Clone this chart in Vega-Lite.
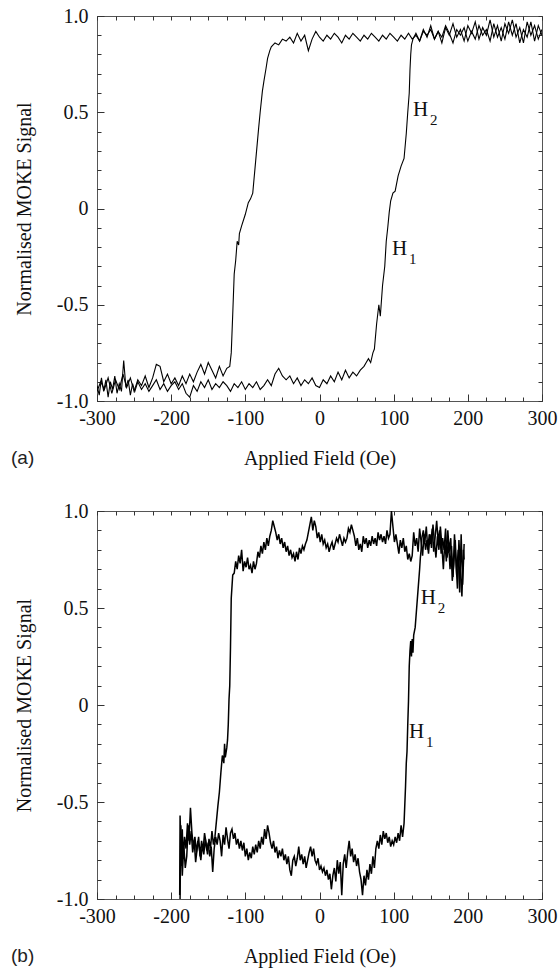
{
 "$schema": "https://vega.github.io/schema/vega-lite/v6.json",
 "padding": {"left": 10, "top": 5, "right": 0, "bottom": 5},
 "spacing": 31,
 "background": "white",
 "config": {
  "font": "Liberation Serif",
  "view": {"stroke": "#555", "strokeWidth": 1},
  "axis": {"grid": false, "domain": false, "ticks": true, "tickColor": "#333", "tickWidth": 1, "labelFont": "Liberation Serif", "labelFontSize": 20, "labelColor": "#111", "titleFont": "Liberation Serif", "titleFontSize": 20, "titleFontWeight": "normal", "titleColor": "#111", "labelFlush": false, "labelOverlap": false},
  "title": {"font": "Liberation Sans", "fontSize": 19, "fontWeight": "normal", "color": "#222"}
 },
 "datasets": {
  "a": [
   {"b":"d","x":300,"y":0.90},{"b":"d","x":295,"y":0.95},{"b":"d","x":290,"y":0.87},{"b":"d","x":285,"y":0.97},{"b":"d","x":280,"y":0.89},{"b":"d","x":275,"y":0.93},{"b":"d","x":270,"y":0.86},{"b":"d","x":265,"y":0.96},{"b":"d","x":260,"y":0.90},{"b":"d","x":255,"y":0.97},{"b":"d","x":250,"y":0.88},{"b":"d","x":245,"y":0.94},{"b":"d","x":240,"y":0.89},{"b":"d","x":235,"y":0.96},{"b":"d","x":230,"y":0.87},{"b":"d","x":225,"y":0.93},{"b":"d","x":220,"y":0.90},{"b":"d","x":215,"y":0.95},{"b":"d","x":210,"y":0.88},{"b":"d","x":205,"y":0.92},{"b":"d","x":200,"y":0.87},{"b":"d","x":195,"y":0.94},{"b":"d","x":190,"y":0.90},{"b":"d","x":185,"y":0.93},{"b":"d","x":180,"y":0.86},{"b":"d","x":175,"y":0.91},{"b":"d","x":170,"y":0.95},{"b":"d","x":165,"y":0.89},{"b":"d","x":160,"y":0.92},{"b":"d","x":155,"y":0.88},{"b":"d","x":150,"y":0.93},{"b":"d","x":145,"y":0.90},{"b":"d","x":140,"y":0.92},{"b":"d","x":135,"y":0.87},{"b":"d","x":130,"y":0.90},{"b":"d","x":125,"y":0.88},{"b":"d","x":120,"y":0.91},{"b":"d","x":115,"y":0.88},{"b":"d","x":110,"y":0.90},{"b":"d","x":105,"y":0.87},{"b":"d","x":100,"y":0.89},{"b":"d","x":95,"y":0.91},{"b":"d","x":90,"y":0.88},{"b":"d","x":85,"y":0.90},{"b":"d","x":80,"y":0.87},{"b":"d","x":75,"y":0.89},{"b":"d","x":70,"y":0.91},{"b":"d","x":65,"y":0.88},{"b":"d","x":60,"y":0.90},{"b":"d","x":55,"y":0.87},{"b":"d","x":50,"y":0.89},{"b":"d","x":45,"y":0.91},{"b":"d","x":40,"y":0.88},{"b":"d","x":35,"y":0.90},{"b":"d","x":30,"y":0.86},{"b":"d","x":25,"y":0.89},{"b":"d","x":20,"y":0.91},{"b":"d","x":15,"y":0.88},{"b":"d","x":10,"y":0.90},{"b":"d","x":5,"y":0.87},{"b":"d","x":0,"y":0.89},{"b":"d","x":-5,"y":0.92},{"b":"d","x":-10,"y":0.88},{"b":"d","x":-15,"y":0.82},{"b":"d","x":-20,"y":0.90},{"b":"d","x":-25,"y":0.87},{"b":"d","x":-30,"y":0.91},{"b":"d","x":-35,"y":0.86},{"b":"d","x":-40,"y":0.89},{"b":"d","x":-45,"y":0.87},{"b":"d","x":-50,"y":0.88},{"b":"d","x":-55,"y":0.85},{"b":"d","x":-60,"y":0.86},{"b":"d","x":-65,"y":0.84},{"b":"d","x":-67,"y":0.82},{"b":"d","x":-70,"y":0.78},{"b":"d","x":-72,"y":0.73},{"b":"d","x":-75,"y":0.66},{"b":"d","x":-77,"y":0.61},{"b":"d","x":-80,"y":0.50},{"b":"d","x":-82,"y":0.42},{"b":"d","x":-86,"y":0.25},{"b":"d","x":-90,"y":0.08},{"b":"d","x":-93,"y":0.05},{"b":"d","x":-96,"y":0.03},{"b":"d","x":-100,"y":-0.03},{"b":"d","x":-105,"y":-0.09},{"b":"d","x":-108,"y":-0.13},{"b":"d","x":-109,"y":-0.19},{"b":"d","x":-111,"y":-0.17},{"b":"d","x":-113,"y":-0.27},{"b":"d","x":-115,"y":-0.34},{"b":"d","x":-117,"y":-0.55},{"b":"d","x":-119,"y":-0.75},{"b":"d","x":-121,"y":-0.82},{"b":"d","x":-125,"y":-0.83},{"b":"d","x":-130,"y":-0.87},{"b":"d","x":-135,"y":-0.82},{"b":"d","x":-140,"y":-0.88},{"b":"d","x":-145,"y":-0.84},{"b":"d","x":-150,"y":-0.80},{"b":"d","x":-155,"y":-0.86},{"b":"d","x":-160,"y":-0.81},{"b":"d","x":-165,"y":-0.85},{"b":"d","x":-170,"y":-0.90},{"b":"d","x":-175,"y":-0.86},{"b":"d","x":-180,"y":-0.91},{"b":"d","x":-185,"y":-0.87},{"b":"d","x":-190,"y":-0.92},{"b":"d","x":-195,"y":-0.88},{"b":"d","x":-200,"y":-0.91},{"b":"d","x":-205,"y":-0.86},{"b":"d","x":-210,"y":-0.90},{"b":"d","x":-215,"y":-0.82},{"b":"d","x":-220,"y":-0.81},{"b":"d","x":-225,"y":-0.88},{"b":"d","x":-230,"y":-0.93},{"b":"d","x":-235,"y":-0.87},{"b":"d","x":-240,"y":-0.92},{"b":"d","x":-245,"y":-0.89},{"b":"d","x":-250,"y":-0.95},{"b":"d","x":-255,"y":-0.88},{"b":"d","x":-260,"y":-0.93},{"b":"d","x":-265,"y":-0.86},{"b":"d","x":-270,"y":-0.94},{"b":"d","x":-275,"y":-0.89},{"b":"d","x":-280,"y":-0.96},{"b":"d","x":-285,"y":-0.88},{"b":"d","x":-290,"y":-0.94},{"b":"d","x":-295,"y":-0.90},{"b":"d","x":-300,"y":-0.95},
   {"b":"u","x":-300,"y":-0.92},{"b":"u","x":-297,"y":-0.97},{"b":"u","x":-294,"y":-0.88},{"b":"u","x":-291,"y":-0.95},{"b":"u","x":-288,"y":-0.89},{"b":"u","x":-285,"y":-0.98},{"b":"u","x":-282,"y":-0.90},{"b":"u","x":-279,"y":-0.94},{"b":"u","x":-276,"y":-0.87},{"b":"u","x":-273,"y":-0.96},{"b":"u","x":-270,"y":-0.91},{"b":"u","x":-267,"y":-0.95},{"b":"u","x":-264,"y":-0.79},{"b":"u","x":-261,"y":-0.93},{"b":"u","x":-258,"y":-0.89},{"b":"u","x":-255,"y":-0.97},{"b":"u","x":-252,"y":-0.91},{"b":"u","x":-249,"y":-0.95},{"b":"u","x":-245,"y":-0.90},{"b":"u","x":-240,"y":-0.94},{"b":"u","x":-235,"y":-0.91},{"b":"u","x":-230,"y":-0.95},{"b":"u","x":-225,"y":-0.92},{"b":"u","x":-220,"y":-0.89},{"b":"u","x":-215,"y":-0.94},{"b":"u","x":-210,"y":-0.91},{"b":"u","x":-205,"y":-0.95},{"b":"u","x":-200,"y":-0.92},{"b":"u","x":-195,"y":-0.90},{"b":"u","x":-190,"y":-0.94},{"b":"u","x":-185,"y":-0.91},{"b":"u","x":-180,"y":-0.96},{"b":"u","x":-175,"y":-0.98},{"b":"u","x":-170,"y":-0.92},{"b":"u","x":-165,"y":-0.95},{"b":"u","x":-160,"y":-0.90},{"b":"u","x":-155,"y":-0.93},{"b":"u","x":-150,"y":-0.89},{"b":"u","x":-145,"y":-0.94},{"b":"u","x":-140,"y":-0.91},{"b":"u","x":-135,"y":-0.93},{"b":"u","x":-130,"y":-0.90},{"b":"u","x":-125,"y":-0.92},{"b":"u","x":-120,"y":-0.95},{"b":"u","x":-115,"y":-0.91},{"b":"u","x":-110,"y":-0.93},{"b":"u","x":-105,"y":-0.90},{"b":"u","x":-100,"y":-0.94},{"b":"u","x":-95,"y":-0.91},{"b":"u","x":-90,"y":-0.93},{"b":"u","x":-85,"y":-0.90},{"b":"u","x":-80,"y":-0.94},{"b":"u","x":-75,"y":-0.92},{"b":"u","x":-70,"y":-0.89},{"b":"u","x":-65,"y":-0.92},{"b":"u","x":-60,"y":-0.86},{"b":"u","x":-55,"y":-0.83},{"b":"u","x":-50,"y":-0.87},{"b":"u","x":-45,"y":-0.89},{"b":"u","x":-40,"y":-0.87},{"b":"u","x":-35,"y":-0.91},{"b":"u","x":-30,"y":-0.88},{"b":"u","x":-25,"y":-0.92},{"b":"u","x":-20,"y":-0.89},{"b":"u","x":-15,"y":-0.91},{"b":"u","x":-10,"y":-0.88},{"b":"u","x":-5,"y":-0.92},{"b":"u","x":0,"y":-0.93},{"b":"u","x":5,"y":-0.89},{"b":"u","x":10,"y":-0.91},{"b":"u","x":15,"y":-0.87},{"b":"u","x":20,"y":-0.90},{"b":"u","x":25,"y":-0.85},{"b":"u","x":30,"y":-0.89},{"b":"u","x":35,"y":-0.84},{"b":"u","x":40,"y":-0.88},{"b":"u","x":45,"y":-0.85},{"b":"u","x":50,"y":-0.87},{"b":"u","x":55,"y":-0.84},{"b":"u","x":60,"y":-0.82},{"b":"u","x":63,"y":-0.80},{"b":"u","x":66,"y":-0.78},{"b":"u","x":69,"y":-0.80},{"b":"u","x":72,"y":-0.75},{"b":"u","x":74,"y":-0.73},{"b":"u","x":77,"y":-0.60},{"b":"u","x":80,"y":-0.50},{"b":"u","x":82,"y":-0.56},{"b":"u","x":85,"y":-0.40},{"b":"u","x":88,"y":-0.30},{"b":"u","x":90,"y":-0.17},{"b":"u","x":92,"y":-0.10},{"b":"u","x":94,"y":-0.02},{"b":"u","x":96,"y":0.04},{"b":"u","x":99,"y":0.08},{"b":"u","x":102,"y":0.09},{"b":"u","x":106,"y":0.17},{"b":"u","x":110,"y":0.22},{"b":"u","x":114,"y":0.26},{"b":"u","x":117,"y":0.39},{"b":"u","x":119,"y":0.50},{"b":"u","x":121,"y":0.60},{"b":"u","x":122,"y":0.72},{"b":"u","x":123,"y":0.80},{"b":"u","x":124,"y":0.85},{"b":"u","x":126,"y":0.88},{"b":"u","x":130,"y":0.91},{"b":"u","x":135,"y":0.87},{"b":"u","x":140,"y":0.93},{"b":"u","x":145,"y":0.89},{"b":"u","x":150,"y":0.95},{"b":"u","x":155,"y":0.88},{"b":"u","x":160,"y":0.92},{"b":"u","x":165,"y":0.86},{"b":"u","x":170,"y":0.94},{"b":"u","x":175,"y":0.90},{"b":"u","x":180,"y":0.96},{"b":"u","x":185,"y":0.89},{"b":"u","x":190,"y":0.93},{"b":"u","x":195,"y":0.87},{"b":"u","x":200,"y":0.95},{"b":"u","x":205,"y":0.91},{"b":"u","x":210,"y":0.97},{"b":"u","x":215,"y":0.88},{"b":"u","x":220,"y":0.94},{"b":"u","x":225,"y":0.90},{"b":"u","x":230,"y":0.98},{"b":"u","x":235,"y":0.89},{"b":"u","x":240,"y":0.95},{"b":"u","x":245,"y":0.87},{"b":"u","x":250,"y":0.96},{"b":"u","x":255,"y":0.91},{"b":"u","x":260,"y":0.98},{"b":"u","x":265,"y":0.89},{"b":"u","x":270,"y":0.94},{"b":"u","x":275,"y":0.86},{"b":"u","x":280,"y":0.97},{"b":"u","x":285,"y":0.90},{"b":"u","x":290,"y":0.95},{"b":"u","x":295,"y":0.88},{"b":"u","x":300,"y":0.93}
  ],
  "b": [
   {"b":"d","x":195,"y":0.83},{"b":"d","x":193,"y":0.62},{"b":"d","x":191,"y":0.88},{"b":"d","x":189,"y":0.58},{"b":"d","x":187,"y":0.80},{"b":"d","x":185,"y":0.67},{"b":"d","x":183,"y":0.85},{"b":"d","x":181,"y":0.72},{"b":"d","x":179,"y":0.64},{"b":"d","x":177,"y":0.86},{"b":"d","x":175,"y":0.79},{"b":"d","x":173,"y":0.90},{"b":"d","x":171,"y":0.74},{"b":"d","x":169,"y":0.85},{"b":"d","x":167,"y":0.70},{"b":"d","x":165,"y":0.82},{"b":"d","x":163,"y":0.92},{"b":"d","x":161,"y":0.80},{"b":"d","x":159,"y":0.87},{"b":"d","x":157,"y":0.76},{"b":"d","x":155,"y":0.84},{"b":"d","x":153,"y":0.93},{"b":"d","x":151,"y":0.81},{"b":"d","x":149,"y":0.88},{"b":"d","x":147,"y":0.78},{"b":"d","x":145,"y":0.85},{"b":"d","x":143,"y":0.80},{"b":"d","x":141,"y":0.88},{"b":"d","x":139,"y":0.77},{"b":"d","x":137,"y":0.84},{"b":"d","x":135,"y":0.91},{"b":"d","x":133,"y":0.79},{"b":"d","x":131,"y":0.86},{"b":"d","x":129,"y":0.82},{"b":"d","x":127,"y":0.89},{"b":"d","x":125,"y":0.77},{"b":"d","x":123,"y":0.74},{"b":"d","x":121,"y":0.78},{"b":"d","x":119,"y":0.75},{"b":"d","x":117,"y":0.82},{"b":"d","x":115,"y":0.79},{"b":"d","x":113,"y":0.86},{"b":"d","x":111,"y":0.81},{"b":"d","x":109,"y":0.85},{"b":"d","x":107,"y":0.78},{"b":"d","x":105,"y":0.83},{"b":"d","x":103,"y":0.88},{"b":"d","x":101,"y":0.84},{"b":"d","x":99,"y":0.92},{"b":"d","x":97,"y":1.00},{"b":"d","x":95,"y":0.88},{"b":"d","x":93,"y":0.86},{"b":"d","x":91,"y":0.90},{"b":"d","x":89,"y":0.83},{"b":"d","x":87,"y":0.87},{"b":"d","x":85,"y":0.84},{"b":"d","x":83,"y":0.88},{"b":"d","x":81,"y":0.85},{"b":"d","x":79,"y":0.89},{"b":"d","x":77,"y":0.82},{"b":"d","x":75,"y":0.86},{"b":"d","x":73,"y":0.83},{"b":"d","x":71,"y":0.87},{"b":"d","x":69,"y":0.82},{"b":"d","x":67,"y":0.85},{"b":"d","x":65,"y":0.81},{"b":"d","x":63,"y":0.86},{"b":"d","x":61,"y":0.83},{"b":"d","x":59,"y":0.87},{"b":"d","x":57,"y":0.79},{"b":"d","x":55,"y":0.83},{"b":"d","x":53,"y":0.80},{"b":"d","x":51,"y":0.86},{"b":"d","x":49,"y":0.82},{"b":"d","x":47,"y":0.87},{"b":"d","x":45,"y":0.90},{"b":"d","x":43,"y":0.93},{"b":"d","x":41,"y":0.89},{"b":"d","x":39,"y":0.91},{"b":"d","x":37,"y":0.86},{"b":"d","x":35,"y":0.84},{"b":"d","x":33,"y":0.86},{"b":"d","x":31,"y":0.82},{"b":"d","x":29,"y":0.85},{"b":"d","x":27,"y":0.88},{"b":"d","x":25,"y":0.84},{"b":"d","x":23,"y":0.86},{"b":"d","x":21,"y":0.83},{"b":"d","x":19,"y":0.80},{"b":"d","x":17,"y":0.84},{"b":"d","x":15,"y":0.82},{"b":"d","x":13,"y":0.79},{"b":"d","x":11,"y":0.83},{"b":"d","x":9,"y":0.81},{"b":"d","x":7,"y":0.85},{"b":"d","x":5,"y":0.83},{"b":"d","x":3,"y":0.88},{"b":"d","x":1,"y":0.84},{"b":"d","x":-1,"y":0.89},{"b":"d","x":-3,"y":0.86},{"b":"d","x":-5,"y":0.92},{"b":"d","x":-7,"y":0.95},{"b":"d","x":-9,"y":0.90},{"b":"d","x":-11,"y":0.97},{"b":"d","x":-13,"y":0.93},{"b":"d","x":-15,"y":0.89},{"b":"d","x":-17,"y":0.85},{"b":"d","x":-19,"y":0.83},{"b":"d","x":-21,"y":0.80},{"b":"d","x":-23,"y":0.82},{"b":"d","x":-25,"y":0.78},{"b":"d","x":-27,"y":0.81},{"b":"d","x":-29,"y":0.75},{"b":"d","x":-31,"y":0.79},{"b":"d","x":-33,"y":0.74},{"b":"d","x":-35,"y":0.78},{"b":"d","x":-37,"y":0.76},{"b":"d","x":-39,"y":0.80},{"b":"d","x":-41,"y":0.77},{"b":"d","x":-43,"y":0.82},{"b":"d","x":-45,"y":0.79},{"b":"d","x":-47,"y":0.84},{"b":"d","x":-49,"y":0.81},{"b":"d","x":-51,"y":0.86},{"b":"d","x":-53,"y":0.83},{"b":"d","x":-55,"y":0.88},{"b":"d","x":-57,"y":0.85},{"b":"d","x":-59,"y":0.89},{"b":"d","x":-61,"y":0.92},{"b":"d","x":-63,"y":0.95},{"b":"d","x":-65,"y":0.90},{"b":"d","x":-67,"y":0.87},{"b":"d","x":-69,"y":0.82},{"b":"d","x":-71,"y":0.86},{"b":"d","x":-73,"y":0.80},{"b":"d","x":-75,"y":0.84},{"b":"d","x":-77,"y":0.78},{"b":"d","x":-79,"y":0.82},{"b":"d","x":-81,"y":0.76},{"b":"d","x":-83,"y":0.79},{"b":"d","x":-85,"y":0.73},{"b":"d","x":-87,"y":0.70},{"b":"d","x":-89,"y":0.74},{"b":"d","x":-91,"y":0.68},{"b":"d","x":-93,"y":0.72},{"b":"d","x":-95,"y":0.70},{"b":"d","x":-97,"y":0.76},{"b":"d","x":-99,"y":0.71},{"b":"d","x":-101,"y":0.74},{"b":"d","x":-103,"y":0.69},{"b":"d","x":-105,"y":0.80},{"b":"d","x":-107,"y":0.73},{"b":"d","x":-109,"y":0.77},{"b":"d","x":-111,"y":0.70},{"b":"d","x":-113,"y":0.74},{"b":"d","x":-115,"y":0.68},{"b":"d","x":-117,"y":0.67},{"b":"d","x":-119,"y":0.55},{"b":"d","x":-120,"y":0.30},{"b":"d","x":-121,"y":0.10},{"b":"d","x":-122,"y":0.03},{"b":"d","x":-123,"y":-0.10},{"b":"d","x":-124,"y":-0.18},{"b":"d","x":-125,"y":-0.22},{"b":"d","x":-127,"y":-0.27},{"b":"d","x":-128,"y":-0.20},{"b":"d","x":-129,"y":-0.30},{"b":"d","x":-131,"y":-0.26},{"b":"d","x":-133,"y":-0.35},{"b":"d","x":-135,"y":-0.45},{"b":"d","x":-137,"y":-0.52},{"b":"d","x":-139,"y":-0.60},{"b":"d","x":-141,"y":-0.68},{"b":"d","x":-143,"y":-0.72},{"b":"d","x":-145,"y":-0.65},{"b":"d","x":-147,"y":-0.74},{"b":"d","x":-149,"y":-0.69},{"b":"d","x":-151,"y":-0.77},{"b":"d","x":-153,"y":-0.71},{"b":"d","x":-155,"y":-0.66},{"b":"d","x":-157,"y":-0.75},{"b":"d","x":-159,"y":-0.70},{"b":"d","x":-161,"y":-0.78},{"b":"d","x":-163,"y":-0.68},{"b":"d","x":-165,"y":-0.74},{"b":"d","x":-167,"y":-0.81},{"b":"d","x":-169,"y":-0.70},{"b":"d","x":-171,"y":-0.76},{"b":"d","x":-173,"y":-0.65},{"b":"d","x":-175,"y":-0.72},{"b":"d","x":-177,"y":-0.62},{"b":"d","x":-179,"y":-0.78},{"b":"d","x":-181,"y":-0.84},{"b":"d","x":-183,"y":-0.72},{"b":"d","x":-185,"y":-0.88},{"b":"d","x":-187,"y":-0.62},{"b":"d","x":-188,"y":-1.00},
   {"b":"u","x":-188.5,"y":-0.98},{"b":"u","x":-188,"y":-0.57},{"b":"u","x":-187,"y":-0.70},{"b":"u","x":-186,"y":-0.83},{"b":"u","x":-185,"y":-0.64},{"b":"u","x":-184,"y":-0.79},{"b":"u","x":-182,"y":-0.68},{"b":"u","x":-180,"y":-0.74},{"b":"u","x":-178,"y":-0.61},{"b":"u","x":-176,"y":-0.70},{"b":"u","x":-174,"y":-0.53},{"b":"u","x":-172,"y":-0.66},{"b":"u","x":-170,"y":-0.73},{"b":"u","x":-168,"y":-0.68},{"b":"u","x":-166,"y":-0.76},{"b":"u","x":-164,"y":-0.70},{"b":"u","x":-162,"y":-0.74},{"b":"u","x":-160,"y":-0.80},{"b":"u","x":-158,"y":-0.72},{"b":"u","x":-156,"y":-0.77},{"b":"u","x":-154,"y":-0.69},{"b":"u","x":-152,"y":-0.75},{"b":"u","x":-150,"y":-0.71},{"b":"u","x":-148,"y":-0.78},{"b":"u","x":-146,"y":-0.73},{"b":"u","x":-144,"y":-0.86},{"b":"u","x":-142,"y":-0.74},{"b":"u","x":-140,"y":-0.68},{"b":"u","x":-138,"y":-0.72},{"b":"u","x":-136,"y":-0.66},{"b":"u","x":-134,"y":-0.70},{"b":"u","x":-132,"y":-0.78},{"b":"u","x":-130,"y":-0.67},{"b":"u","x":-128,"y":-0.72},{"b":"u","x":-126,"y":-0.63},{"b":"u","x":-124,"y":-0.69},{"b":"u","x":-122,"y":-0.74},{"b":"u","x":-120,"y":-0.66},{"b":"u","x":-118,"y":-0.64},{"b":"u","x":-116,"y":-0.69},{"b":"u","x":-114,"y":-0.66},{"b":"u","x":-112,"y":-0.72},{"b":"u","x":-110,"y":-0.69},{"b":"u","x":-108,"y":-0.74},{"b":"u","x":-106,"y":-0.70},{"b":"u","x":-104,"y":-0.75},{"b":"u","x":-102,"y":-0.71},{"b":"u","x":-100,"y":-0.78},{"b":"u","x":-98,"y":-0.74},{"b":"u","x":-96,"y":-0.80},{"b":"u","x":-94,"y":-0.76},{"b":"u","x":-92,"y":-0.79},{"b":"u","x":-90,"y":-0.73},{"b":"u","x":-88,"y":-0.77},{"b":"u","x":-86,"y":-0.72},{"b":"u","x":-84,"y":-0.76},{"b":"u","x":-82,"y":-0.70},{"b":"u","x":-80,"y":-0.74},{"b":"u","x":-78,"y":-0.68},{"b":"u","x":-76,"y":-0.72},{"b":"u","x":-74,"y":-0.64},{"b":"u","x":-72,"y":-0.69},{"b":"u","x":-70,"y":-0.62},{"b":"u","x":-68,"y":-0.66},{"b":"u","x":-66,"y":-0.71},{"b":"u","x":-64,"y":-0.74},{"b":"u","x":-62,"y":-0.70},{"b":"u","x":-60,"y":-0.76},{"b":"u","x":-58,"y":-0.73},{"b":"u","x":-56,"y":-0.79},{"b":"u","x":-54,"y":-0.75},{"b":"u","x":-52,"y":-0.78},{"b":"u","x":-50,"y":-0.74},{"b":"u","x":-48,"y":-0.80},{"b":"u","x":-46,"y":-0.77},{"b":"u","x":-44,"y":-0.82},{"b":"u","x":-42,"y":-0.78},{"b":"u","x":-40,"y":-0.85},{"b":"u","x":-38,"y":-0.88},{"b":"u","x":-36,"y":-0.80},{"b":"u","x":-34,"y":-0.78},{"b":"u","x":-32,"y":-0.83},{"b":"u","x":-30,"y":-0.79},{"b":"u","x":-28,"y":-0.73},{"b":"u","x":-26,"y":-0.80},{"b":"u","x":-24,"y":-0.77},{"b":"u","x":-22,"y":-0.82},{"b":"u","x":-20,"y":-0.78},{"b":"u","x":-18,"y":-0.84},{"b":"u","x":-16,"y":-0.80},{"b":"u","x":-14,"y":-0.76},{"b":"u","x":-12,"y":-0.73},{"b":"u","x":-10,"y":-0.78},{"b":"u","x":-8,"y":-0.74},{"b":"u","x":-6,"y":-0.80},{"b":"u","x":-4,"y":-0.82},{"b":"u","x":-2,"y":-0.79},{"b":"u","x":0,"y":-0.85},{"b":"u","x":2,"y":-0.83},{"b":"u","x":4,"y":-0.86},{"b":"u","x":6,"y":-0.84},{"b":"u","x":8,"y":-0.88},{"b":"u","x":10,"y":-0.85},{"b":"u","x":12,"y":-0.90},{"b":"u","x":14,"y":-0.87},{"b":"u","x":16,"y":-0.95},{"b":"u","x":18,"y":-0.88},{"b":"u","x":20,"y":-0.84},{"b":"u","x":22,"y":-0.91},{"b":"u","x":24,"y":-0.80},{"b":"u","x":26,"y":-0.87},{"b":"u","x":28,"y":-0.81},{"b":"u","x":30,"y":-0.98},{"b":"u","x":32,"y":-0.82},{"b":"u","x":34,"y":-0.77},{"b":"u","x":36,"y":-0.84},{"b":"u","x":38,"y":-0.76},{"b":"u","x":40,"y":-0.70},{"b":"u","x":42,"y":-0.78},{"b":"u","x":44,"y":-0.74},{"b":"u","x":46,"y":-0.81},{"b":"u","x":48,"y":-0.77},{"b":"u","x":50,"y":-0.83},{"b":"u","x":52,"y":-0.79},{"b":"u","x":54,"y":-0.86},{"b":"u","x":56,"y":-0.90},{"b":"u","x":58,"y":-0.98},{"b":"u","x":60,"y":-0.88},{"b":"u","x":62,"y":-0.93},{"b":"u","x":64,"y":-0.85},{"b":"u","x":66,"y":-0.90},{"b":"u","x":68,"y":-0.82},{"b":"u","x":70,"y":-0.87},{"b":"u","x":72,"y":-0.78},{"b":"u","x":74,"y":-0.84},{"b":"u","x":76,"y":-0.74},{"b":"u","x":78,"y":-0.70},{"b":"u","x":80,"y":-0.74},{"b":"u","x":82,"y":-0.67},{"b":"u","x":84,"y":-0.72},{"b":"u","x":86,"y":-0.65},{"b":"u","x":88,"y":-0.69},{"b":"u","x":90,"y":-0.66},{"b":"u","x":92,"y":-0.71},{"b":"u","x":94,"y":-0.68},{"b":"u","x":96,"y":-0.73},{"b":"u","x":98,"y":-0.70},{"b":"u","x":100,"y":-0.72},{"b":"u","x":102,"y":-0.68},{"b":"u","x":104,"y":-0.71},{"b":"u","x":106,"y":-0.66},{"b":"u","x":108,"y":-0.70},{"b":"u","x":110,"y":-0.62},{"b":"u","x":112,"y":-0.68},{"b":"u","x":114,"y":-0.61},{"b":"u","x":116,"y":-0.42},{"b":"u","x":117,"y":-0.30},{"b":"u","x":118,"y":-0.24},{"b":"u","x":119,"y":-0.10},{"b":"u","x":120,"y":0.02},{"b":"u","x":121,"y":0.20},{"b":"u","x":122,"y":0.28},{"b":"u","x":123,"y":0.33},{"b":"u","x":124,"y":0.25},{"b":"u","x":125,"y":0.34},{"b":"u","x":126,"y":0.27},{"b":"u","x":127,"y":0.36},{"b":"u","x":129,"y":0.40},{"b":"u","x":131,"y":0.50},{"b":"u","x":133,"y":0.60},{"b":"u","x":135,"y":0.70},{"b":"u","x":136,"y":0.76},{"b":"u","x":137,"y":0.80},{"b":"u","x":138,"y":0.86},{"b":"u","x":140,"y":0.90},{"b":"u","x":142,"y":0.84},{"b":"u","x":144,"y":0.92},{"b":"u","x":146,"y":0.80},{"b":"u","x":148,"y":0.88},{"b":"u","x":150,"y":0.83},{"b":"u","x":152,"y":0.91},{"b":"u","x":154,"y":0.79},{"b":"u","x":156,"y":0.87},{"b":"u","x":158,"y":0.95},{"b":"u","x":160,"y":0.84},{"b":"u","x":162,"y":0.90},{"b":"u","x":164,"y":0.78},{"b":"u","x":166,"y":0.86},{"b":"u","x":168,"y":0.80},{"b":"u","x":170,"y":0.91},{"b":"u","x":172,"y":0.76},{"b":"u","x":174,"y":0.84},{"b":"u","x":176,"y":0.70},{"b":"u","x":178,"y":0.82},{"b":"u","x":180,"y":0.66},{"b":"u","x":182,"y":0.88},{"b":"u","x":184,"y":0.74},{"b":"u","x":186,"y":0.60},{"b":"u","x":188,"y":0.85},{"b":"u","x":190,"y":0.69},{"b":"u","x":192,"y":0.56},{"b":"u","x":194,"y":0.80},{"b":"u","x":195,"y":0.75}
  ],
  "ha": [{"x": 126, "y": 0.512, "t": "H", "s": "2"}, {"x": 97.7, "y": -0.208, "t": "H", "s": "1"}],
  "hb": [{"x": 136.4, "y": 0.552, "t": "H", "s": "2"}, {"x": 120.7, "y": -0.139, "t": "H", "s": "1"}]
 },
 "vconcat": [
  {
   "width": 445, "height": 385,
   "title": {"text": "(a)", "orient": "bottom", "anchor": "start", "frame": "group", "dx": -86, "offset": -19},
   "resolve": {"axis": {"x": "independent", "y": "independent"}},
   "layer": [
    {"data": {"name": "a"},
     "mark": {"type": "line", "color": "#000", "strokeWidth": 1.1, "clip": true},
     "encoding": {
      "x": {"field": "x", "type": "quantitative", "scale": {"domain": [-300, 300], "nice": false, "zero": false},
            "axis": {"orient": "bottom", "values": [-300, -200, -100, 0, 100, 200, 300], "offset": -7, "tickSize": 7, "labelPadding": 7, "labelExpr": "'' + datum.value", "title": "Applied Field (Oe)", "titlePadding": 20}},
      "y": {"field": "y", "type": "quantitative", "scale": {"domain": [-1, 1], "nice": false, "zero": false},
            "axis": {"orient": "left", "values": [-1, -0.5, 0, 0.5, 1], "offset": -7, "tickSize": 7, "labelPadding": 9, "labelExpr": "datum.value == 0 ? '0' : datum.value == 1 ? '1.0' : datum.value == -1 ? '-1.0' : '' + datum.value", "title": "Normalised MOKE Signal", "titlePadding": 22}},
      "detail": {"field": "b"}
     }},
    {"data": {"name": "ha"},
     "mark": {"type": "text", "fontSize": 21, "align": "left", "baseline": "middle", "color": "#111"},
     "encoding": {
      "x": {"field": "x", "type": "quantitative", "axis": {"orient": "bottom", "offset": -4, "tickSize": 4, "values": [-300,-275,-250,-225,-200,-175,-150,-125,-100,-75,-50,-25,0,25,50,75,100,125,150,175,200,225,250,275,300], "labels": false, "title": null}},
      "y": {"field": "y", "type": "quantitative", "axis": {"orient": "left", "offset": -4, "tickSize": 4, "values": [-1,-0.9,-0.8,-0.7,-0.6,-0.5,-0.4,-0.3,-0.2,-0.1,0,0.1,0.2,0.3,0.4,0.5,0.6,0.7,0.8,0.9,1], "labels": false, "title": null}},
      "text": {"field": "t"}
     }},
    {"data": {"name": "ha"},
     "mark": {"type": "text", "fontSize": 15, "align": "left", "baseline": "middle", "dx": 17, "dy": 10, "color": "#111"},
     "encoding": {
      "x": {"field": "x", "type": "quantitative", "axis": {"orient": "top", "offset": -4, "tickSize": 4, "values": [-300,-275,-250,-225,-200,-175,-150,-125,-100,-75,-50,-25,0,25,50,75,100,125,150,175,200,225,250,275,300], "labels": false, "title": null}},
      "y": {"field": "y", "type": "quantitative", "axis": {"orient": "right", "offset": -4, "tickSize": 4, "values": [-1,-0.9,-0.8,-0.7,-0.6,-0.5,-0.4,-0.3,-0.2,-0.1,0,0.1,0.2,0.3,0.4,0.5,0.6,0.7,0.8,0.9,1], "labels": false, "title": null}},
      "text": {"field": "s"}
     }}
   ]
  },
  {
   "width": 445, "height": 388,
   "title": {"text": "(b)", "orient": "bottom", "anchor": "start", "frame": "group", "dx": -86, "offset": -19},
   "resolve": {"axis": {"x": "independent", "y": "independent"}},
   "layer": [
    {"data": {"name": "b"},
     "mark": {"type": "line", "color": "#000", "strokeWidth": 1.5, "clip": true},
     "encoding": {
      "x": {"field": "x", "type": "quantitative", "scale": {"domain": [-300, 300], "nice": false, "zero": false},
            "axis": {"orient": "bottom", "values": [-300, -200, -100, 0, 100, 200, 300], "offset": -7, "tickSize": 7, "labelPadding": 7, "labelExpr": "'' + datum.value", "title": "Applied Field (Oe)", "titlePadding": 20}},
      "y": {"field": "y", "type": "quantitative", "scale": {"domain": [-1, 1], "nice": false, "zero": false},
            "axis": {"orient": "left", "values": [-1, -0.5, 0, 0.5, 1], "offset": -7, "tickSize": 7, "labelPadding": 9, "labelExpr": "datum.value == 0 ? '0' : datum.value == 1 ? '1.0' : datum.value == -1 ? '-1.0' : '' + datum.value", "title": "Normalised MOKE Signal", "titlePadding": 22}},
      "detail": {"field": "b"}
     }},
    {"data": {"name": "hb"},
     "mark": {"type": "text", "fontSize": 21, "align": "left", "baseline": "middle", "color": "#111"},
     "encoding": {
      "x": {"field": "x", "type": "quantitative", "axis": {"orient": "bottom", "offset": -4, "tickSize": 4, "values": [-300,-275,-250,-225,-200,-175,-150,-125,-100,-75,-50,-25,0,25,50,75,100,125,150,175,200,225,250,275,300], "labels": false, "title": null}},
      "y": {"field": "y", "type": "quantitative", "axis": {"orient": "left", "offset": -4, "tickSize": 4, "values": [-1,-0.9,-0.8,-0.7,-0.6,-0.5,-0.4,-0.3,-0.2,-0.1,0,0.1,0.2,0.3,0.4,0.5,0.6,0.7,0.8,0.9,1], "labels": false, "title": null}},
      "text": {"field": "t"}
     }},
    {"data": {"name": "hb"},
     "mark": {"type": "text", "fontSize": 15, "align": "left", "baseline": "middle", "dx": 17, "dy": 10, "color": "#111"},
     "encoding": {
      "x": {"field": "x", "type": "quantitative", "axis": {"orient": "top", "offset": -4, "tickSize": 4, "values": [-300,-275,-250,-225,-200,-175,-150,-125,-100,-75,-50,-25,0,25,50,75,100,125,150,175,200,225,250,275,300], "labels": false, "title": null}},
      "y": {"field": "y", "type": "quantitative", "axis": {"orient": "right", "offset": -4, "tickSize": 4, "values": [-1,-0.9,-0.8,-0.7,-0.6,-0.5,-0.4,-0.3,-0.2,-0.1,0,0.1,0.2,0.3,0.4,0.5,0.6,0.7,0.8,0.9,1], "labels": false, "title": null}},
      "text": {"field": "s"}
     }}
   ]
  }
 ]
}
